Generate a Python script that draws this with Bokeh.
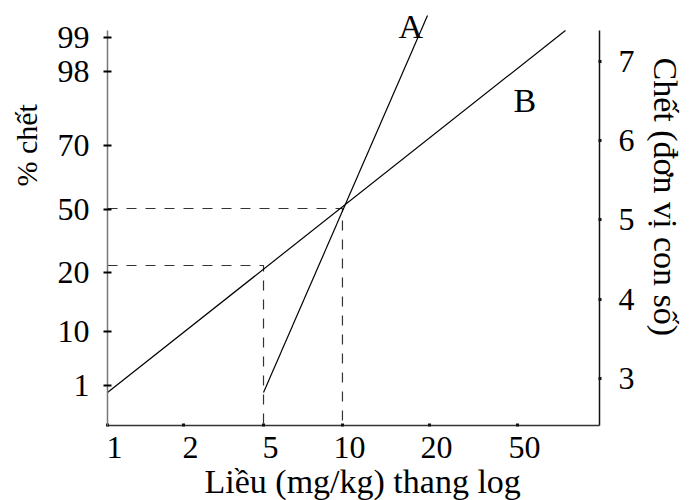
from bokeh.plotting import figure
from bokeh.models import LinearAxis, Range1d, FixedTicker, Title, ColumnDataSource
from bokeh.core.properties import value
from bokeh.embed import file_html
from bokeh.resources import INLINE

FONT = "Liberation Serif"

# x: dose (mg/kg), log scale drawn schematically; position = decades above 1 mg/kg
dose_labels = [1, 2, 5, 10, 20, 50]
dose_pos = [0.0, 0.323, 0.664, 1.0, 1.370, 1.745]
# left axis: % chết, positions in probit units
pct_labels = [1, 10, 20, 50, 70, 98, 99]
pct_pos = [2.912, 3.593, 4.338, 5.133, 5.940, 6.874, 7.303]
# right axis: probit units
probit_ticks = [3, 4, 5, 6, 7]

# lines A and B (x in decade positions, y in probit units)
line_a_x = [0.664, 1.362]
line_a_y = [2.823, 7.580]
line_b_x = [0.0, 1.949]
line_b_y = [2.823, 7.391]

# dashed guides: LD50 at dose 10, 20 % at dose 5
ld50_x = [0.0, 1.0, 1.0]
ld50_y = [5.145, 5.145, 2.407]
ld20_x = [0.0, 0.664, 0.664]
ld20_y = [4.426, 4.426, 2.407]

# line names
names = ["A", "B"]
names_x = [1.238, 1.728]
names_y = [7.441, 6.507]

X_MIN, X_MAX = 0.0, 2.094
Y_MIN, Y_MAX = 2.407, 7.618
Y_AXIS_TOP = 7.391

p = figure(width=691, height=500, x_range=Range1d(X_MIN, X_MAX), y_range=Range1d(Y_MIN, Y_MAX),
           output_backend="svg", toolbar_location=None,
           x_axis_location=None, y_axis_location=None,
           min_border_left=107, min_border_right=92, min_border_top=12, min_border_bottom=75)
p.outline_line_color = None
p.xgrid.visible = False
p.ygrid.visible = False
p.background_fill_color = "white"
p.border_fill_color = "white"

TICK_SIZE = "32px"

# bottom axis: labels sit a little to the right of the tick dots
label_pos = [x + 0.03 for x in dose_pos]
xaxis = LinearAxis(ticker=FixedTicker(ticks=label_pos, minor_ticks=dose_pos),
                   major_label_overrides={k: str(v) for k, v in zip(label_pos, dose_labels)},
                   bounds=(X_MIN, X_MAX))
xaxis.axis_line_color = "#333333"
xaxis.axis_line_width = 1.5
xaxis.major_tick_line_color = None
xaxis.major_tick_in = 0
xaxis.major_tick_out = 0
xaxis.minor_tick_line_color = "#111111"
xaxis.minor_tick_line_width = 3
xaxis.minor_tick_in = 2
xaxis.minor_tick_out = 1
xaxis.major_label_standoff = 10
xaxis.major_label_text_font = FONT
xaxis.major_label_text_font_size = TICK_SIZE
xaxis.major_label_text_color = "black"
p.add_layout(xaxis, "below")

# left axis: % chết
yaxis = LinearAxis(ticker=FixedTicker(ticks=pct_pos),
                   major_label_overrides={k: str(v) for k, v in zip(pct_pos, pct_labels)},
                   bounds=(Y_MIN, Y_AXIS_TOP))
yaxis.axis_line_color = "#777777"
yaxis.axis_line_width = 1.5
yaxis.major_tick_line_color = "black"
yaxis.major_tick_line_width = 2
yaxis.major_tick_in = 4
yaxis.major_tick_out = 4
yaxis.minor_tick_line_color = None
yaxis.major_label_standoff = 14
yaxis.major_label_text_font = FONT
yaxis.major_label_text_font_size = TICK_SIZE
yaxis.major_label_text_color = "black"
p.add_layout(yaxis, "left")

# right axis: probit units
raxis = LinearAxis(ticker=FixedTicker(ticks=probit_ticks), bounds=(Y_MIN, Y_AXIS_TOP))
raxis.axis_line_color = "#111111"
raxis.axis_line_width = 1.5
raxis.major_tick_line_color = "#111111"
raxis.major_tick_line_width = 3
raxis.major_tick_in = 1
raxis.major_tick_out = 2
raxis.minor_tick_line_color = None
raxis.major_label_standoff = 17
raxis.major_label_text_font = FONT
raxis.major_label_text_font_size = TICK_SIZE
raxis.major_label_text_color = "black"
p.add_layout(raxis, "right")

# axis titles
bt = Title(text="Liều (mg/kg) thang log", align="left", offset=97, standoff=0,
           text_font=FONT, text_font_size="34px", text_font_style="normal", text_color="black")
p.add_layout(bt, "below")
lt = Title(text="% chết", align="left", offset=239, standoff=19, vertical_align="top",
           text_font=FONT, text_font_size="30px", text_font_style="normal", text_color="black")
p.add_layout(lt, "left")
rt = Title(text="Chết (đơn vị con số)", align="left", offset=45, standoff=15, vertical_align="top",
           text_font=FONT, text_font_size="34px", text_font_style="normal", text_color="black")
p.add_layout(rt, "right")

# dashed guides
p.line(ld50_x, ld50_y, line_color="#333333", line_width=1.2, line_dash="10 9")
p.line(ld20_x, ld20_y, line_color="#333333", line_width=1.2, line_dash="10 9")

# lines A and B
p.line(line_a_x, line_a_y, line_color="black", line_width=1.2)
p.line(line_b_x, line_b_y, line_color="black", line_width=1.2)

src = ColumnDataSource(dict(x=names_x, y=names_y, t=names))
p.text(x="x", y="y", text="t", source=src, text_font=value(FONT), text_font_size="34px",
       text_align="left", text_baseline="alphabetic", text_color="black")

open("out.html", "w").write(file_html(p, INLINE))
